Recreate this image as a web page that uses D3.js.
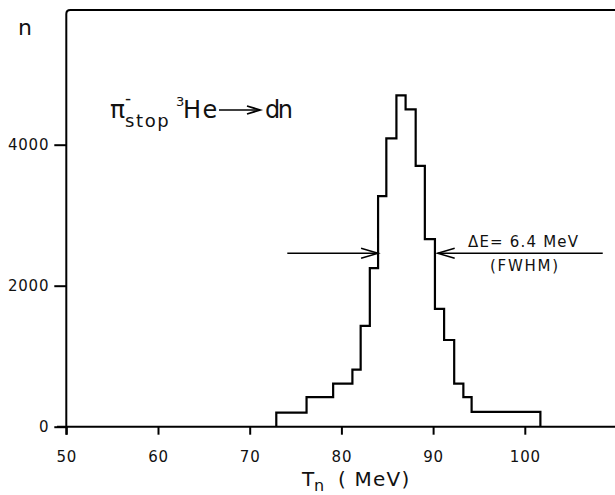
<!DOCTYPE html>
<html>
<head>
<meta charset="utf-8">
<script src="https://cdn.jsdelivr.net/npm/d3@7"></script>
<style>
  html, body { margin: 0; padding: 0; background: #fff; }
  svg { display: block; }
  text { font-family: "DejaVu Sans", "Liberation Sans", sans-serif; fill: #111; }
</style>
</head>
<body>
<svg id="chart" width="615" height="495"></svg>
<script>
// ---- data ----
const binEdges = [72.9, 76.2, 79.1, 81.2, 82.1, 83.1, 84.0, 84.9, 86.0, 87.0, 88.1, 89.1, 90.2, 91.2, 92.3, 93.3, 94.2, 101.7];
const binCounts = [200, 420, 610, 810, 1430, 2250, 3270, 4090, 4700, 4500, 3700, 2660, 1670, 1230, 610, 420, 210];
const xTicks = [50, 60, 70, 80, 90, 100];
const yTicks = [0, 2000, 4000];
const yTickLabels = ["0", "2000", "4000"];
const fwhmLevel = 2460;
const leftArrow = [74.1, 84.0];   // start, tip (MeV)
const rightArrow = [108.5, 90.5]; // start, tip (MeV)

const svg = d3.select("#chart");
const x = d3.scaleLinear().domain([50, 110]).range([66.3, 616.5]);
const y = d3.scaleLinear().domain([0, 4000]).range([426.7, 144.7]);

const y0 = y(0), xL = x(50);

// frame: left axis up to top, top line to right edge
svg.append("path")
  .attr("d", `M${xL},${y0 + 8} L${xL},14 Q${xL},10 ${xL + 4},10 L615,10`)
  .attr("fill", "none").attr("stroke", "#000").attr("stroke-width", 2);
// x-axis baseline
svg.append("line").attr("x1", 57).attr("x2", 615).attr("y1", y0).attr("y2", y0)
  .attr("stroke", "#000").attr("stroke-width", 2);

// x axis ticks/labels
const gx = svg.append("g").attr("transform", `translate(0,${y0})`)
  .call(d3.axisBottom(x).tickValues(xTicks).tickSizeInner(8).tickSizeOuter(0).tickPadding(17).tickFormat(d3.format("d")));
gx.select(".domain").remove();
gx.selectAll(".tick line").attr("stroke", "#000").attr("stroke-width", 2);
gx.selectAll(".tick text").attr("font-size", 15).attr("letter-spacing", 0.8)
  .attr("font-family", "DejaVu Sans").attr("fill", "#111");

// y axis ticks/labels
const gy = svg.append("g").attr("transform", `translate(${xL},0)`)
  .call(d3.axisLeft(y).tickValues(yTicks).tickSizeInner(12).tickSizeOuter(0).tickPadding(5)
    .tickFormat((d, i) => yTickLabels[i]));
gy.select(".domain").remove();
gy.selectAll(".tick line").attr("stroke", "#000").attr("stroke-width", 2);
gy.selectAll(".tick text").attr("font-size", 15).attr("letter-spacing", 0.8)
  .attr("font-family", "DejaVu Sans").attr("fill", "#111");

// histogram as step outline
const pts = [[binEdges[0], 0]];
binCounts.forEach((c, i) => { pts.push([binEdges[i], c]); pts.push([binEdges[i + 1], c]); });
pts.push([binEdges[binEdges.length - 1], 0]);
svg.append("path")
  .attr("d", d3.line().x(d => x(d[0])).y(d => y(d[1]))(pts))
  .attr("fill", "none").attr("stroke", "#000").attr("stroke-width", 2.2).attr("stroke-linejoin", "miter");

// FWHM arrows
function arrow(x1, x2, yy) {
  const dir = x2 > x1 ? 1 : -1;
  svg.append("line").attr("x1", x1).attr("x2", x2).attr("y1", yy).attr("y2", yy)
    .attr("stroke", "#000").attr("stroke-width", 1.3);
  svg.append("path")
    .attr("d", `M${x2 - dir * 17},${yy - 5} L${x2},${yy} L${x2 - dir * 17},${yy + 5}`)
    .attr("fill", "none").attr("stroke", "#000").attr("stroke-width", 1.5);
}
const ay = y(fwhmLevel);
arrow(x(leftArrow[0]), x(leftArrow[1]), ay);
arrow(x(rightArrow[0]), x(rightArrow[1]), ay);

svg.append("text").attr("x", 468).attr("y", 247).attr("font-size", 15)
  .attr("textLength", 110).attr("lengthAdjust", "spacing").text("ΔE= 6.4 MeV");
svg.append("text").attr("x", 490).attr("y", 270.5).attr("font-size", 15)
  .attr("textLength", 68).attr("lengthAdjust", "spacing").text("(FWHM)");

// y-axis label
svg.append("text").attr("x", 18).attr("y", 35).attr("font-size", 22).text("n");

// x-axis label  T_n (MeV)
const xl = svg.append("text").attr("x", 302).attr("y", 485.5).attr("font-size", 20);
xl.append("tspan").text("T");
xl.append("tspan").attr("x", 314).attr("y", 491).attr("font-size", 16).text("n");
xl.append("tspan").attr("x", 338).attr("y", 486).attr("font-size", 20).attr("letter-spacing", 1.2).text("( MeV)");

// reaction label  π⁻_stop ³He → dn
const rl = svg.append("text").attr("x", 110).attr("y", 118).attr("font-size", 25);
rl.append("tspan").text("π");
rl.append("tspan").attr("x", 125).attr("y", 104).attr("font-size", 17).text("-");
rl.append("tspan").attr("x", 125).attr("y", 127).attr("font-size", 18).attr("letter-spacing", 1.6).text("stop");
rl.append("tspan").attr("x", 176).attr("y", 106).attr("font-size", 13).attr("letter-spacing", 0).text("3");
rl.append("tspan").attr("x", 183).attr("y", 118).attr("font-size", 24).attr("letter-spacing", 1.5).text("He");
svg.append("line").attr("x1", 219).attr("x2", 259).attr("y1", 110).attr("y2", 110)
  .attr("stroke", "#000").attr("stroke-width", 1.5);
svg.append("path").attr("d", "M247,106 L260,110 L247,114")
  .attr("fill", "none").attr("stroke", "#000").attr("stroke-width", 1.8);
svg.append("text").attr("x", 265).attr("y", 118).attr("font-size", 24)
  .attr("textLength", 28).attr("lengthAdjust", "spacing").text("dn");
</script>
</body>
</html>
